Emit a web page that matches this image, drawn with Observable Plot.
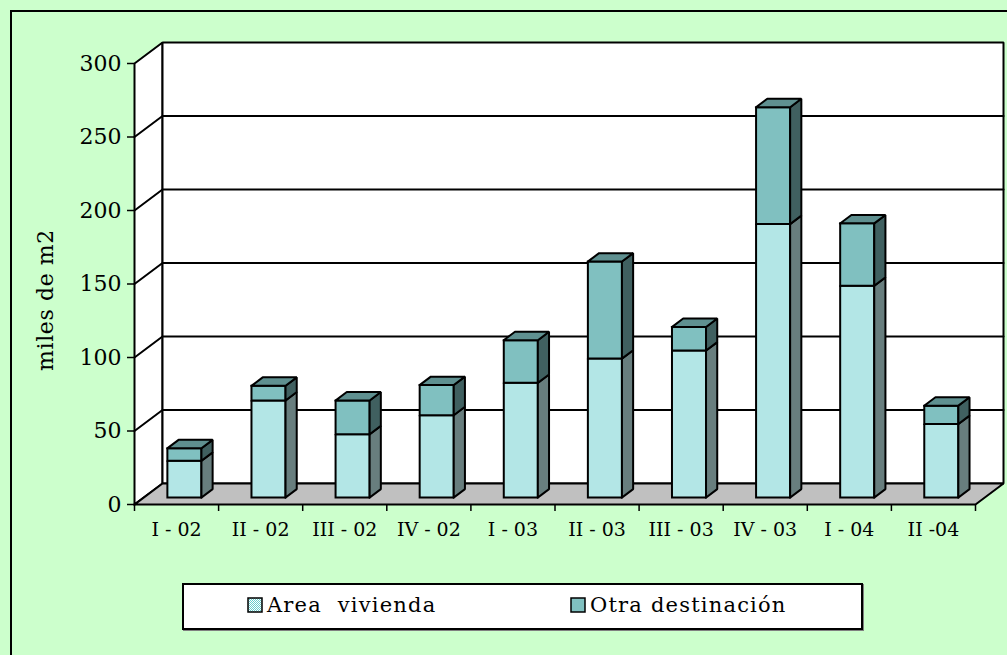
<!DOCTYPE html>
<html>
<head>
<meta charset="utf-8">
<script src="https://cdn.jsdelivr.net/npm/d3@7"></script>
<script src="https://cdn.jsdelivr.net/npm/@observablehq/plot@0.6"></script>
<style>
  html, body { margin: 0; padding: 0; width: 1007px; height: 655px; overflow: hidden; background: #CCFFCC; }
  #frame { position: absolute; left: 10px; top: 10px; width: 1100px; height: 700px; border: 2px solid #000; box-sizing: border-box; }
  #chart { position: absolute; left: 0; top: 0; }
  #legend { position: absolute; left: 182px; top: 583px; width: 681px; height: 47px; background: #fff; border: 2px solid #000; box-sizing: border-box; box-shadow: 1px 1px 0 #808080;
    font-family: "DejaVu Serif", serif; font-size: 21px; color: #000; letter-spacing: 1.2px; }
  .item { position: absolute; top: 8px; white-space: pre; display: flex; align-items: center; }
  .sw { width: 16px; height: 16px; margin-right: 4px; display: block; }
</style>
</head>
<body>
<div id="frame"></div>
<div id="chart"></div>
<div id="legend">
  <div class="item" style="left:63px"><svg class="sw" width="16" height="16"><defs><pattern id="swPat" patternUnits="userSpaceOnUse" width="2" height="2"><rect width="2" height="2" fill="#ffffff"/><rect width="1" height="1" fill="#66CCCC"/><rect x="1" y="1" width="1" height="1" fill="#66CCCC"/></pattern></defs><rect x="1" y="1" width="14" height="14" fill="url(#swPat)" stroke="#000" stroke-width="1.5"/></svg><span id="lg0"></span></div>
  <div class="item" style="left:386px"><svg class="sw" width="16" height="16"><rect x="1" y="1" width="14" height="14" fill="#80C0C0" stroke="#000" stroke-width="1.5"/></svg><span id="lg1"></span></div>
</div>
<script>
// ---- data ----
const categories = ["I - 02", "II - 02", "III - 02", "IV - 02", "I - 03", "II - 03", "III - 03", "IV - 03", "I - 04", "II -04"];
const vivienda = [25, 66, 43, 56, 78, 94.5, 100, 186, 144, 50];
const otra = [8.5, 10, 23, 20.5, 29, 66, 16, 79.5, 42.5, 12.5];
const yTicks = [0, 50, 100, 150, 200, 250, 300];
const seriesNames = ["Area  vivienda", "Otra destinación"];
const yTitle = "miles de m2";

// ---- 3D projection (oblique), expressed in data units ----
const DEPTH_X = 0.333;   // x units per unit of depth
const DEPTH_Y = 14.3;    // y units per unit of depth
const Z0 = 0.333, Z1 = 0.733;   // bar depth span
const BA = 0.28, BB = 0.685;    // bar span within category

function proj(x, y, z) { return {x: x + z * DEPTH_X, y: y + z * DEPTH_Y}; }
function poly(id, pts, closed = true) {
  const arr = pts.map(([x, y, z]) => ({id, ...proj(x, y, z)}));
  if (closed) arr.push({...arr[0]});
  return arr;
}

const n = categories.length;
const ymax = yTicks[yTicks.length - 1];
const leftWall = poly("lw", [[0, 0, 0], [0, ymax, 0], [0, ymax, 1], [0, 0, 1]]);
const backWall = poly("bw", [[0, 0, 1], [n, 0, 1], [n, ymax, 1], [0, ymax, 1]]);
const floor = poly("fl", [[0, 0, 0], [n, 0, 0], [n, 0, 1], [0, 0, 1]]);
const grid = yTicks.filter(v => v > 0 && v < ymax).flatMap(v => poly("g" + v, [[0, v, 0], [0, v, 1], [n, v, 1]], false));

const vivFront = [], vivSide = [], otFront = [], otSide = [], otTop = [];
categories.forEach((c, i) => {
  const x0 = i + BA, x1 = i + BB;
  const a = 0, b = vivienda[i], t = vivienda[i] + otra[i];
  vivFront.push(...poly("vf" + i, [[x0, a, Z0], [x1, a, Z0], [x1, b, Z0], [x0, b, Z0]]));
  vivSide.push(...poly("vs" + i, [[x1, a, Z0], [x1, a, Z1], [x1, b, Z1], [x1, b, Z0]]));
  otFront.push(...poly("of" + i, [[x0, b, Z0], [x1, b, Z0], [x1, t, Z0], [x0, t, Z0]]));
  otSide.push(...poly("os" + i, [[x1, b, Z0], [x1, b, Z1], [x1, t, Z1], [x1, t, Z0]]));
  otTop.push(...poly("ot" + i, [[x0, t, Z0], [x1, t, Z0], [x1, t, Z1], [x0, t, Z1]]));
});

const face = (data, fill, sw = 2) => Plot.line(data, {x: "x", y: "y", z: "id", fill, stroke: "#000", strokeWidth: sw, strokeLinejoin: "miter", strokeLinecap: "square"});

const chart = Plot.plot({
  width: 1007,
  height: 560,
  marginLeft: 134,
  marginRight: 32,
  marginTop: 63,
  marginBottom: 56,
  x: {domain: [0, n], label: null},
  y: {domain: [0, ymax], label: null},
  style: {background: "transparent", fontFamily: "DejaVu Serif, serif", fontSize: "19px", color: "#000", overflow: "visible"},
  marks: [
    face(leftWall, "#fff"),
    face(backWall, "#fff"),
    face(floor, "#C0C0C0"),
    Plot.line(grid, {x: "x", y: "y", z: "id", stroke: "#000", strokeWidth: 2}),
    face(vivFront, "url(#vivFront)"),
    face(vivSide, "url(#vivSide)"),
    face(otFront, "#80C0C0"),
    face(otSide, "#406060"),
    face(otTop, "#5F9090"),
    Plot.axisY({ticks: yTicks, tickSize: 7, tickPadding: 6, tickFormat: d => String(d), fontSize: 22, label: null, strokeWidth: 1.5}),
    Plot.axisX({ticks: d3.range(0, n + 1), tickSize: 7, tickFormat: () => "", label: null, strokeWidth: 1.5}),
    Plot.axisX({ticks: d3.range(n).map(i => i + 0.5), tickSize: 0, tickPadding: 18, tickFormat: d => categories[Math.floor(d)], fontSize: 19, label: null}),
    Plot.text([yTitle], {frameAnchor: "left", textAnchor: "middle", dx: -89, dy: 16, rotate: -90, fontSize: 22, fill: "#000"})
  ]
});

d3.select(chart).insert("defs", ":first-child").html(`
  <pattern id="vivFront" patternUnits="userSpaceOnUse" width="2" height="2">
    <rect width="2" height="2" fill="#ffffff"/>
    <rect width="1" height="1" fill="#66CCCC"/>
    <rect x="1" y="1" width="1" height="1" fill="#66CCCC"/>
  </pattern>
  <pattern id="vivSide" patternUnits="userSpaceOnUse" width="2" height="2">
    <rect width="2" height="2" fill="#909C9C"/>
    <rect width="1" height="1" fill="#406060"/>
    <rect x="1" y="1" width="1" height="1" fill="#406060"/>
  </pattern>`);
d3.select(chart).selectAll("text").filter(function() { return this.textContent === yTitle; }).style("letter-spacing", "0.6px");

document.getElementById("chart").append(chart);
document.getElementById("lg0").textContent = seriesNames[0];
document.getElementById("lg1").textContent = seriesNames[1];
</script>
</body>
</html>
